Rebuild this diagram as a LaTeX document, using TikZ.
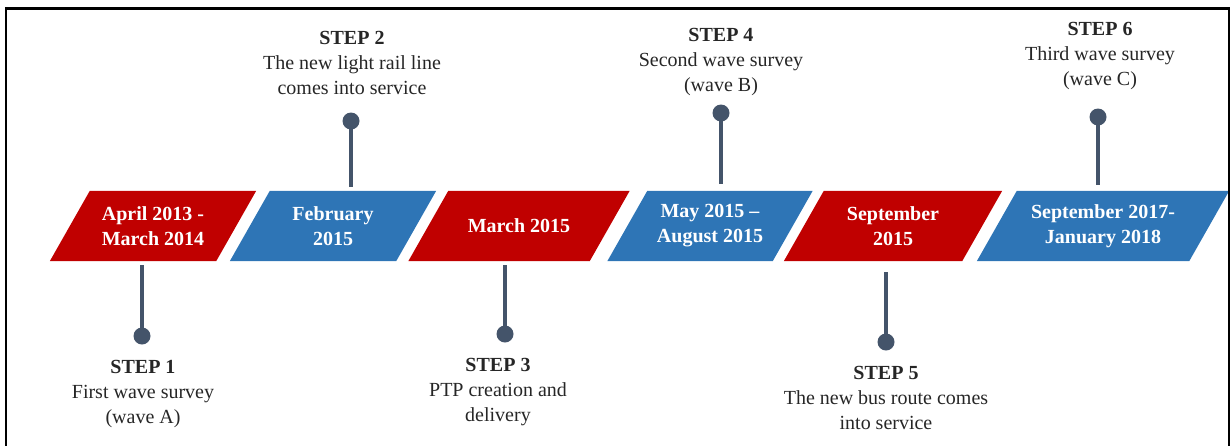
\documentclass[tikz,border=0pt]{standalone}
\usepackage{fontspec}
\setmainfont{Liberation Serif}
\usetikzlibrary{calc,backgrounds}
\definecolor{boxred}{HTML}{C00000}
\definecolor{boxblue}{HTML}{2E75B6}
\definecolor{stemc}{HTML}{44546A}
\definecolor{txt}{HTML}{262626}
\tikzset{
  datebox/.style={minimum height=70pt, inner sep=0pt, text=white,
    font=\fontsize{20}{25}\selectfont\bfseries, align=center},
  dot/.style={circle, fill=stemc, minimum size=17pt, inner sep=0pt},
  stem/.style={draw=stemc, line width=3.5pt},
  steptext/.style={text=txt, font=\fontsize{20}{25}\selectfont, align=center},
  frameline/.style={line width=2.5pt, draw=black}
}
\newcommand\paraFill[2]{%
  \fill[#2] ([xshift=20pt]#1.north west) -- ([xshift=20pt]#1.north east)
    -- ([xshift=-20pt]#1.south east) -- ([xshift=-20pt]#1.south west) -- cycle;}
\begin{document}
\begin{tikzpicture}[x=1pt,y=-1pt]
\useasboundingbox (0,0) rectangle (1232,445);
\draw[frameline] (6,446) -- (6,8.5) -- (1229,8.5) -- (1229,446);

% date boxes
\node[datebox, minimum width=166pt] (b1) at (153,226) {April 2013 -\\March 2014};
\node[datebox, minimum width=166pt] (b2) at (333,226) {February\\2015};
\node[datebox, minimum width=181pt] (b3) at (519,226) {March 2015};
\node[datebox, minimum width=165pt] (b4) at (710,226) {May 2015 –\\August 2015};
\node[datebox, minimum width=178pt] (b5) at (893,226) {September\\2015};
\node[datebox, minimum width=212pt] (b6) at (1103,226) {September 2017-\\January 2018};
\begin{scope}[on background layer]
  \paraFill{b1}{boxred}
  \paraFill{b2}{boxblue}
  \paraFill{b3}{boxred}
  \paraFill{b4}{boxblue}
  \paraFill{b5}{boxred}
  \paraFill{b6}{boxblue}
\end{scope}

% dots
\node[dot] (p1) at (142,336) {};
\node[dot] (p2) at (351,121) {};
\node[dot] (p3) at (505,334) {};
\node[dot] (p4) at (721,113) {};
\node[dot] (p5) at (886,342) {};
\node[dot] (p6) at (1098,117) {};

% stems
\draw[stem, shorten >=4pt] (p1.center) -- (p1 |- b1.south);
\draw[stem, shorten >=4pt] (p2.center) -- (p2 |- b2.north);
\draw[stem, shorten >=4pt] (p3.center) -- (p3 |- b3.south);
\draw[stem, shorten >=7pt] (p4.center) -- (p4 |- b4.north);
\draw[stem, shorten >=11pt] (p5.center) -- (p5 |- b5.south);
\draw[stem, shorten >=6pt] (p6.center) -- (p6 |- b6.north);

% step texts
\node[steptext] (s1) at (143,394) {\textbf{STEP 1}\\First wave survey\\(wave A)};
\node[steptext] (s2) at (352,63) {\textbf{STEP 2}\\The new light rail line\\comes into service};
\node[steptext] (s3) at (498,392) {\textbf{STEP 3}\\PTP creation and\\delivery};
\node[steptext] (s4) at (721,62) {\textbf{STEP 4}\\Second wave survey\\(wave B)};
\node[steptext] (s5) at (886,398) {\textbf{STEP 5}\\The new bus route comes\\into service};
\node[steptext] (s6) at (1100,56) {\textbf{STEP 6}\\Third wave survey\\(wave C)};
\end{tikzpicture}
\end{document}
